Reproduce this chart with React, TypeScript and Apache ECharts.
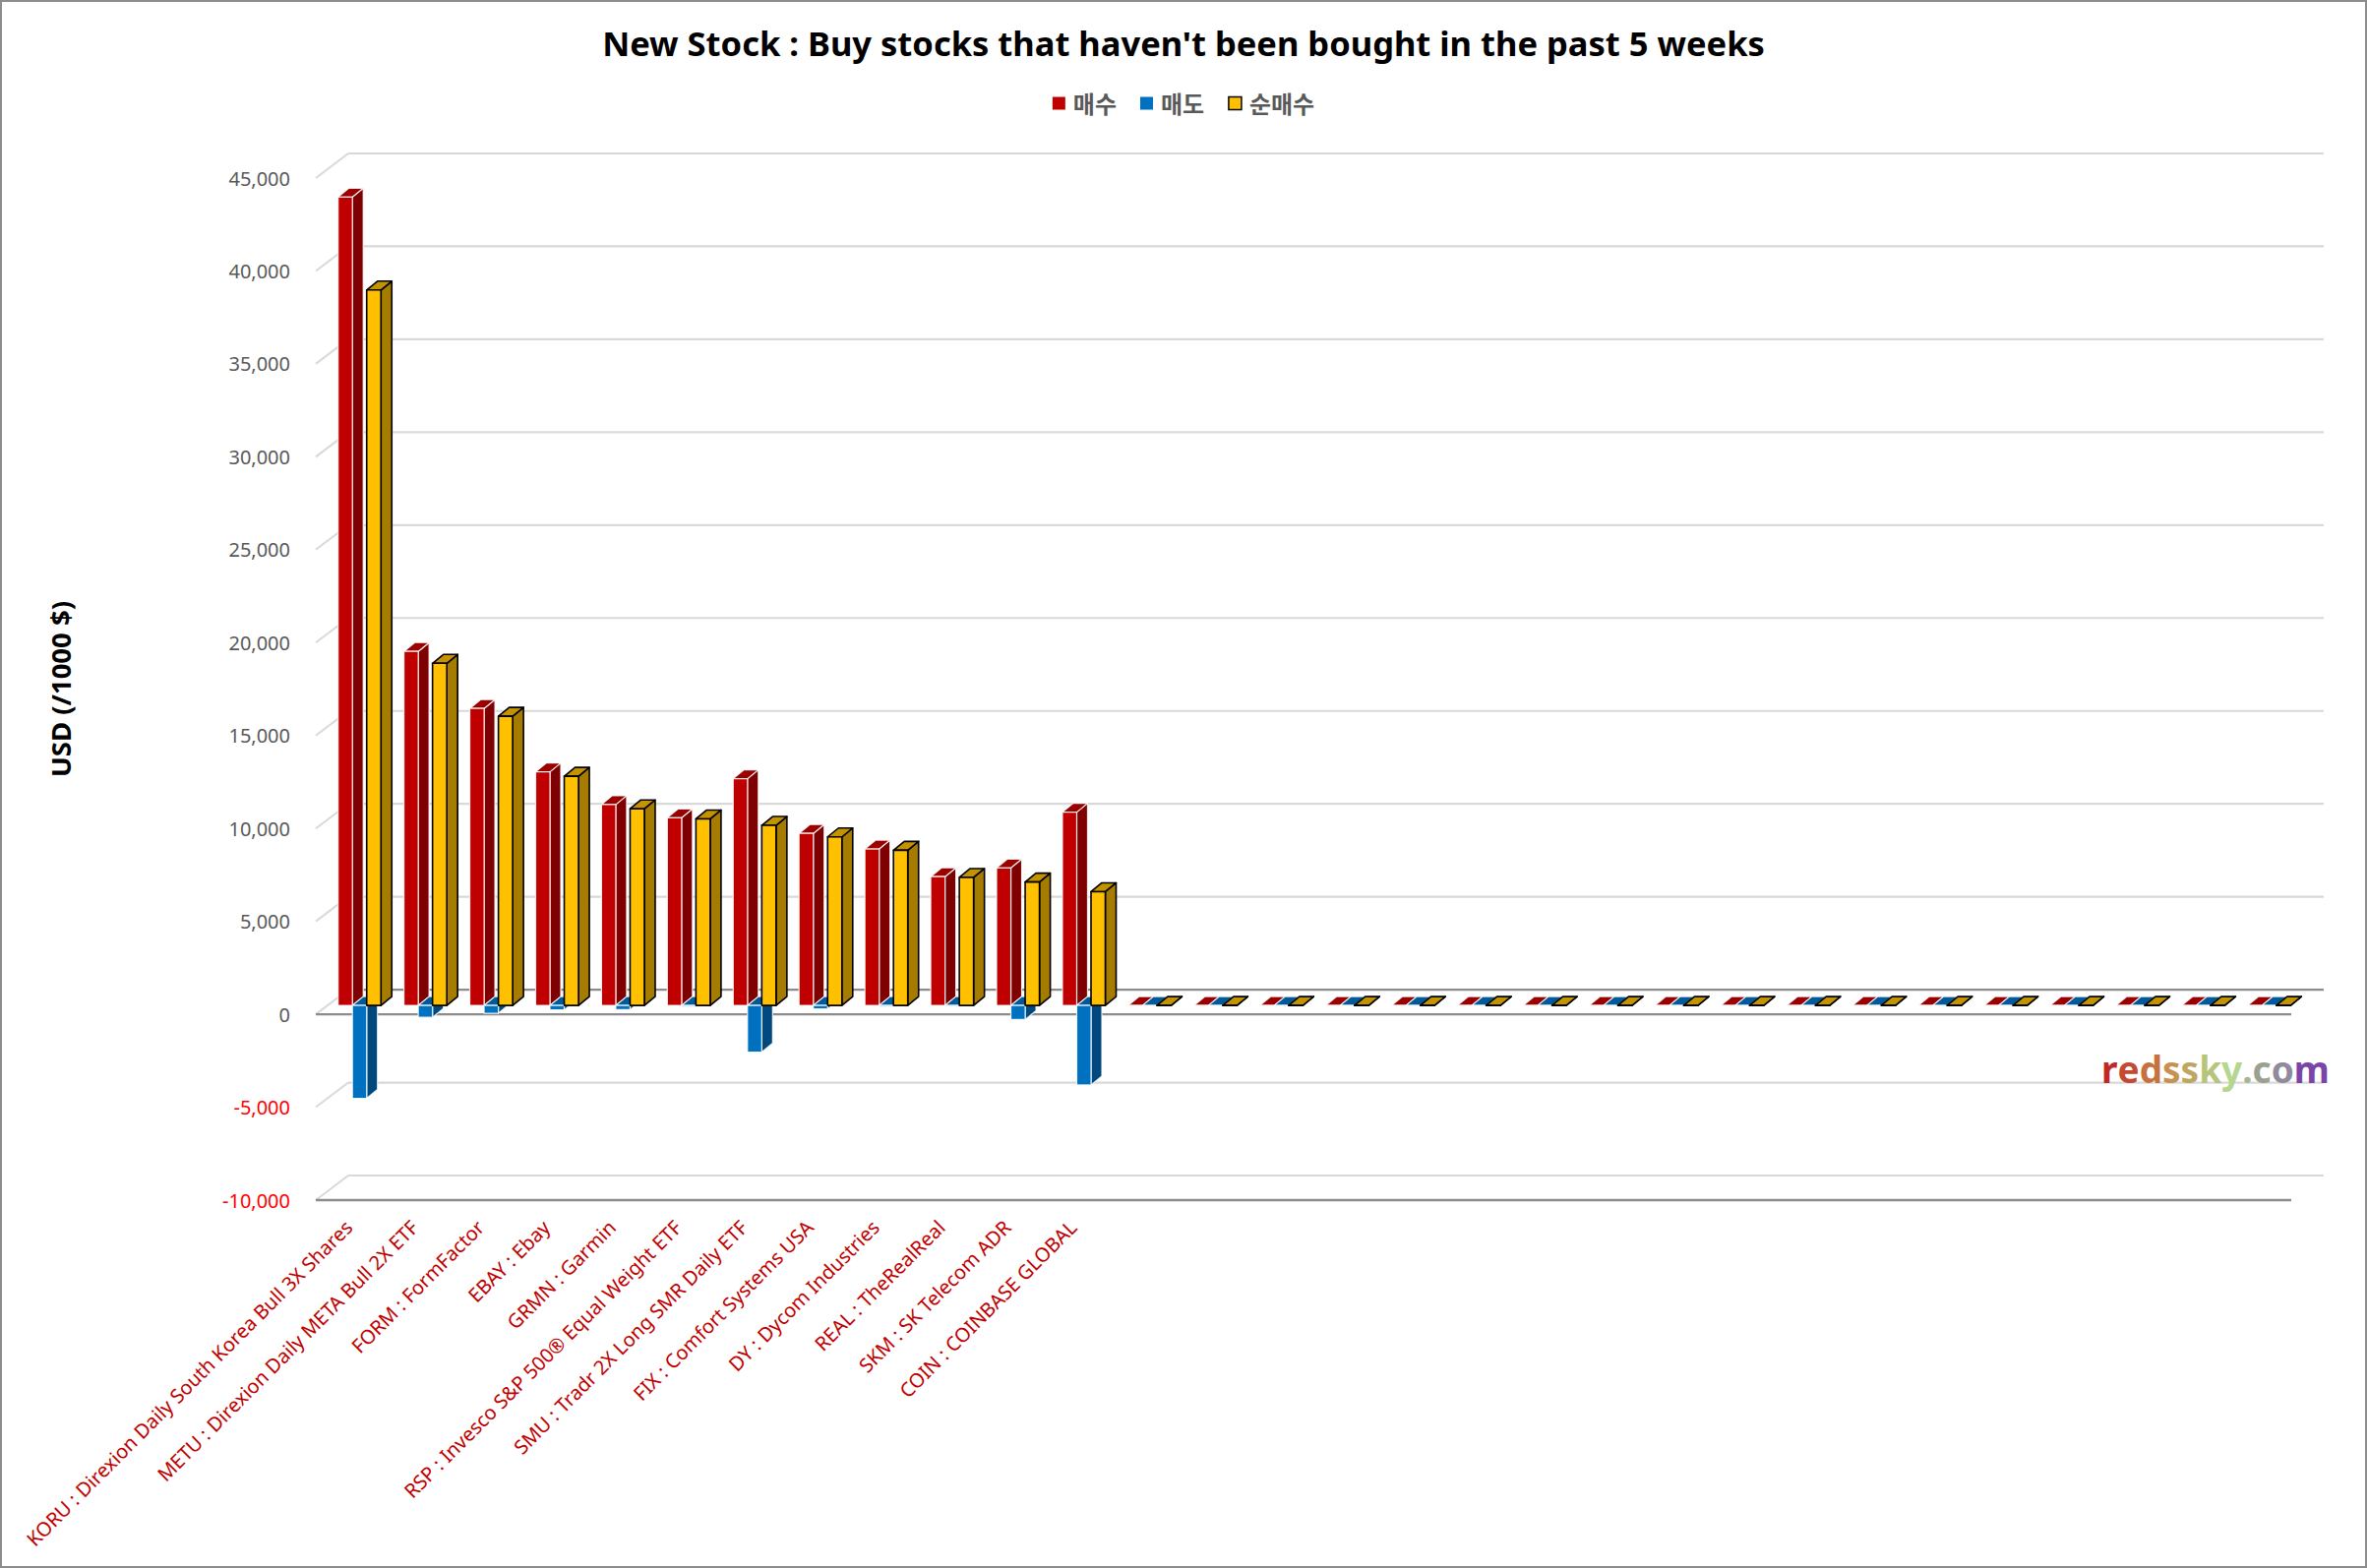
import React, { useEffect, useRef } from 'react';
import * as echarts from 'echarts';

const categories = [
  'KORU : Direxion Daily South Korea Bull 3X Shares',
  'METU : Direxion Daily META Bull 2X ETF',
  'FORM : FormFactor',
  'EBAY : Ebay',
  'GRMN : Garmin',
  'RSP : Invesco S&P 500® Equal Weight ETF',
  'SMU : Tradr 2X Long SMR Daily ETF',
  'FIX : Comfort Systems USA',
  'DY : Dycom Industries',
  'REAL : TheRealReal',
  'SKM : SK Telecom ADR',
  'COIN : COINBASE GLOBAL',
  '', '', '', '', '', '', '', '', '', '', '', '', '', '', '', '', '', '',
];

const buyValues = [43500, 19050, 15980, 12570, 10810, 10100, 12200, 9260, 8420, 6930, 7400, 10400,
  0, 0, 0, 0, 0, 0, 0, 0, 0, 0, 0, 0, 0, 0, 0, 0, 0, 0];
const sellValues = [-5000, -640, -420, -240, -230, -60, -2510, -190, -70, -40, -760, -4280,
  0, 0, 0, 0, 0, 0, 0, 0, 0, 0, 0, 0, 0, 0, 0, 0, 0, 0];
const netValues = [38500, 18410, 15560, 12330, 10580, 10040, 9690, 9070, 8350, 6890, 6640, 6120,
  0, 0, 0, 0, 0, 0, 0, 0, 0, 0, 0, 0, 0, 0, 0, 0, 0, 0];

const yTicks = [-10000, -5000, 0, 5000, 10000, 15000, 20000, 25000, 30000, 35000, 40000, 45000];
const seriesNames = ['매수', '매도', '순매수'];

const FONT = "'Noto Sans', 'Noto Sans CJK KR', sans-serif";
const WALL_DX = 33;
const WALL_DY = -25;
const BAR_OFF_X = 11;
const BAR_OFF_Y = -9;
const BAR_DX = 11;
const BAR_DY = -9;
const LIGHT = '#D9D9D9';
const DARK = '#8C8C8C';

type Faces = { front: string; side: string; top: string; stroke: string; lw: number };

const faceStyles: Faces[] = [
  { front: '#C00000', side: '#7F0000', top: '#9A0000', stroke: 'rgba(255,255,255,0.85)', lw: 1.2 },
  { front: '#0070C0', side: '#00487D', top: '#005A9A', stroke: 'rgba(255,255,255,0.85)', lw: 1.2 },
  { front: '#FFC000', side: '#A67C00', top: '#C49300', stroke: '#000000', lw: 1.6 },
];

function makeBarRender(k: number) {
  const f = faceStyles[k];
  return (params: any, api: any) => {
    const i = api.value(0);
    const v = api.value(1);
    const band = api.size([1, 0])[0];
    const p0 = api.coord([i, 0]);
    const pv = api.coord([i, v]);
    const w = band * 0.217;
    const left = p0[0] - 1.5 * w + k * w + BAR_OFF_X;
    const yt = Math.min(p0[1], pv[1]) + BAR_OFF_Y;
    const yb = Math.max(p0[1], pv[1]) + BAR_OFF_Y;
    const st = { stroke: f.stroke, lineWidth: f.lw, lineJoin: 'round' };
    return {
      type: 'group',
      children: [
        {
          type: 'polygon',
          shape: { points: [[left + w, yt], [left + w + BAR_DX, yt + BAR_DY], [left + w + BAR_DX, yb + BAR_DY], [left + w, yb]] },
          style: { fill: f.side, ...st },
        },
        {
          type: 'polygon',
          shape: { points: [[left, yt], [left + BAR_DX, yt + BAR_DY], [left + w + BAR_DX, yt + BAR_DY], [left + w, yt]] },
          style: { fill: f.top, ...st },
        },
        {
          type: 'rect',
          shape: { x: left, y: yt, width: w, height: yb - yt },
          style: { fill: f.front, ...st },
        },
      ],
    };
  };
}

function gridRender(params: any, api: any) {
  const v = api.value(1);
  const cs = params.coordSys;
  const y = api.coord([0, v])[1];
  const children: any[] = [
    { type: 'line', shape: { x1: cs.x, y1: y, x2: cs.x + WALL_DX, y2: y + WALL_DY }, style: { stroke: LIGHT, lineWidth: 2 } },
    {
      type: 'line',
      shape: { x1: cs.x + WALL_DX, y1: y + WALL_DY, x2: cs.x + cs.width + WALL_DX, y2: y + WALL_DY },
      style: { stroke: v === 0 ? DARK : LIGHT, lineWidth: 2.2 },
    },
  ];
  if (v === 0 || v === yTicks[0]) {
    children.push({ type: 'line', shape: { x1: cs.x, y1: y, x2: cs.x + cs.width, y2: y }, style: { stroke: DARK, lineWidth: 2.4 } });
  }
  return { type: 'group', children };
}

const wmLetters = ['r', 'e', 'd', 's', 's', 'k', 'y', '.', 'c', 'o', 'm'];
const wmColors = ['#C0282A', '#C44A30', '#C7713F', '#C8914F', '#BDA762', '#B6C57A', '#B4D68E', '#A6B592', '#9CA08F', '#8F8A9E', '#7A44A8'];

export default function App() {
  const ref = useRef<HTMLDivElement>(null);
  useEffect(() => {
    document.body.style.margin = '0';
    const chart = echarts.init(ref.current!, null, { renderer: 'svg' });
    const rich: any = {};
    wmLetters.forEach((_, i) => {
      rich['c' + i] = { fill: wmColors[i], color: wmColors[i], fontSize: 37, fontWeight: 'bold', fontFamily: FONT };
    });
    const wmText = wmLetters.map((l, i) => `{c${i}|${l}}`).join('');
    const dataOf = (arr: number[]) => arr.map((v, i) => [i, v]);
    const option: any = {
      animation: false,
      backgroundColor: '#ffffff',
      title: {
        text: "New Stock : Buy stocks that haven't been bought in the past 5 weeks",
        left: 'center',
        top: 21,
        textStyle: { fontFamily: FONT, fontSize: 34.5, fontWeight: 'bold', color: '#000000' },
      },
      legend: {
        top: 88,
        left: 'center',
        icon: 'rect',
        itemWidth: 13,
        itemHeight: 13,
        itemGap: 24,
        selectedMode: false,
        textStyle: { fontFamily: FONT, fontSize: 24, fontWeight: 'bold', color: '#595959', padding: [0, 0, 0, 3] },
        data: [
          { name: seriesNames[0], itemStyle: { color: '#C00000', borderWidth: 0 } },
          { name: seriesNames[1], itemStyle: { color: '#0070C0', borderWidth: 0 } },
          { name: seriesNames[2], itemStyle: { color: '#FFC000', borderColor: '#000000', borderWidth: 1.5 } },
        ],
      },
      grid: { left: 321, top: 181, width: 2008, height: 1039, containLabel: false },
      xAxis: {
        type: 'category',
        data: categories,
        axisLine: { show: false },
        axisTick: { show: false },
        splitLine: { show: false },
        axisLabel: {
          interval: 0,
          rotate: 45,
          margin: 24,
          color: '#C00000',
          fontSize: 20,
          fontFamily: FONT,
        },
      },
      yAxis: {
        type: 'value',
        min: -10000,
        max: 45000,
        interval: 5000,
        splitLine: { show: false },
        axisLine: { show: false },
        axisTick: { show: false },
        name: 'USD (/1000 $)',
        nameLocation: 'middle',
        nameRotate: 90,
        nameGap: 246,
        nameTextStyle: { fontFamily: FONT, fontSize: 27.5, fontWeight: 'bold', color: '#000000' },
        axisLabel: {
          margin: 26,
          fontSize: 20,
          fontFamily: FONT,
          formatter: (v: number) => v.toLocaleString('en-US'),
          color: (v: any) => (Number(v) < 0 ? '#FF0000' : '#595959'),
        },
      },
      series: [
        {
          type: 'custom',
          name: '__grid',
          silent: true,
          z: 1,
          renderItem: gridRender,
          encode: { x: 0, y: 1 },
          data: yTicks.map((v) => [0, v]),
        },
        ...[buyValues, sellValues, netValues].map((arr, k) => ({
          type: 'custom',
          name: seriesNames[k],
          z: 2,
          itemStyle: { color: faceStyles[k].front },
          renderItem: makeBarRender(k),
          encode: { x: 0, y: 1 },
          data: dataOf(arr),
        })),
      ],
      graphic: [
        {
          type: 'rect',
          z: 100,
          silent: true,
          shape: { x: 1, y: 1, width: 2404, height: 1592 },
          style: { fill: 'none', stroke: '#8C8C8C', lineWidth: 2 },
        },
        {
          type: 'text',
          z: 100,
          x: 2136,
          y: 1086,
          style: { text: wmText, rich, verticalAlign: 'middle', align: 'left', font: `bold 37px ${FONT}` },
        },
      ],
    };
    chart.setOption(option);
    return () => chart.dispose();
  }, []);
  return <div ref={ref} style={{ width: 2406, height: 1594 }} />;
}
